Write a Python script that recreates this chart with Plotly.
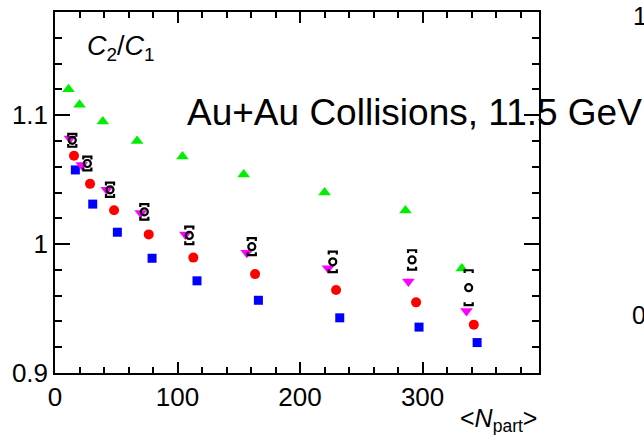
import plotly.graph_objects as go

# C2/C1 versus <Npart>, Au+Au at 11.5 GeV
npart_green = [11, 20, 39, 67, 104, 154, 220, 286, 332]
ratio_green = [1.120, 1.108, 1.095, 1.080, 1.068, 1.054, 1.040, 1.026, 0.981]

npart_red = [15.5, 28.6, 48.2, 76.5, 112.9, 163.3, 229.4, 294.7, 341.8]
ratio_red = [1.0685, 1.0467, 1.0262, 1.0075, 0.9895, 0.9767, 0.9644, 0.9548, 0.9375]

npart_blue = [16.6, 30.8, 50.9, 79.2, 115.9, 166.0, 232.4, 297.1, 344.5]
ratio_blue = [1.0575, 1.031, 1.0092, 0.989, 0.9715, 0.9564, 0.9428, 0.9356, 0.9236]

npart_magenta = [12.2, 21.8, 42.2, 70.0, 106.4, 156.5, 222.9, 288.4, 335.8]
ratio_magenta = [1.0818, 1.0613, 1.0421, 1.0241, 1.0075, 0.9933, 0.9813, 0.9710, 0.9480]

npart_black = [14.1, 26.4, 44.9, 72.9, 109.6, 160.6, 226.7, 291.4, 337.6]
ratio_black = [1.0805, 1.0625, 1.0421, 1.0250, 1.0067, 0.9980, 0.9862, 0.9877, 0.9662]
sys_black = [0.0050, 0.0053, 0.0055, 0.0060, 0.0068, 0.0066, 0.0080, 0.0075, 0.0135]

x_ticks = [0, 100, 200, 300]
y_ticks = [0.9, 1.0, 1.1]
y_tick_text = ["0.9", "1", "1.1"]

FONT = "Liberation Sans, Arial, Helvetica, sans-serif"

# systematic-uncertainty brackets drawn as caps above and below each point
cap_half_width = 3.3
cap_depth = 0.0022
bx, by = [], []
for x, y, e in zip(npart_black, ratio_black, sys_black):
    hi, lo = y + e, y - e
    bx += [x - cap_half_width, x - cap_half_width, x + cap_half_width, x + cap_half_width, None]
    by += [hi - cap_depth, hi, hi, hi - cap_depth, None]
    bx += [x - cap_half_width, x - cap_half_width, x + cap_half_width, x + cap_half_width, None]
    by += [lo + cap_depth, lo, lo, lo + cap_depth, None]

fig = go.Figure()
fig.add_trace(go.Scatter(x=npart_green, y=ratio_green, mode="markers",
                         marker=dict(symbol="triangle-up", size=11, color="#00ee00")))
fig.add_trace(go.Scatter(x=npart_red, y=ratio_red, mode="markers",
                         marker=dict(symbol="circle", size=10, color="#ff0000")))
fig.add_trace(go.Scatter(x=npart_blue, y=ratio_blue, mode="markers",
                         marker=dict(symbol="square", size=9, color="#0000ff")))
fig.add_trace(go.Scatter(x=npart_magenta, y=ratio_magenta, mode="markers",
                         marker=dict(symbol="triangle-down", size=11, color="#ff00ff")))
fig.add_trace(go.Scatter(x=bx, y=by, mode="lines",
                         line=dict(color="black", width=2.2)))
fig.add_trace(go.Scatter(x=npart_black, y=ratio_black, mode="markers",
                         marker=dict(symbol="circle-open", size=7, color="black",
                                     line=dict(width=2.2, color="black"))))

axis_common = dict(
    showline=True, linecolor="black", linewidth=1.5, mirror="allticks",
    ticks="inside", tickcolor="black", tickwidth=1.5,
    showgrid=False, zeroline=False,
    tickfont=dict(family=FONT, size=26, color="black"),
)

fig.update_xaxes(range=[0, 395], tickvals=x_ticks, ticklen=11,
                 minor=dict(dtick=20, tick0=0, ticks="inside", ticklen=6,
                            tickcolor="black", tickwidth=1.5, showgrid=False),
                 **axis_common)
fig.update_yaxes(range=[0.9, 1.18], tickvals=y_ticks, ticktext=y_tick_text, ticklen=15,
                 minor=dict(dtick=0.02, tick0=0.9, ticks="inside", ticklen=7,
                            tickcolor="black", tickwidth=1.5, showgrid=False),
                 **axis_common)

fig.update_layout(
    width=644, height=435,
    margin=dict(l=55, r=105, t=10, b=62),
    paper_bgcolor="white", plot_bgcolor="white",
    showlegend=False,
    font=dict(family=FONT, color="black"),
    annotations=[
        dict(text="<i>C</i><sub>2</sub>/<i>C</i><sub>1</sub>", xref="paper", yref="paper",
             x=0.063, y=0.9, xanchor="left", yanchor="middle", showarrow=False,
             font=dict(size=27)),
        dict(text="Au+Au Collisions, 11.5 GeV", xref="paper", yref="paper",
             x=0.268, y=0.722, xanchor="left", yanchor="middle", showarrow=False,
             font=dict(size=37)),
        dict(text="&lt;<i>N</i><sub>part</sub>&gt;", xref="paper", yref="paper",
             x=1.0, y=-0.13, xanchor="right", yanchor="middle", showarrow=False,
             font=dict(size=25)),
        dict(text="1", xref="paper", yref="paper",
             x=1.19, y=0.99, xanchor="left", yanchor="middle", showarrow=False,
             font=dict(size=25)),
        dict(text="0", xref="paper", yref="paper",
             x=1.188, y=0.16, xanchor="left", yanchor="middle", showarrow=False,
             font=dict(size=25)),
    ],
)

fig.write_html("out.html")
